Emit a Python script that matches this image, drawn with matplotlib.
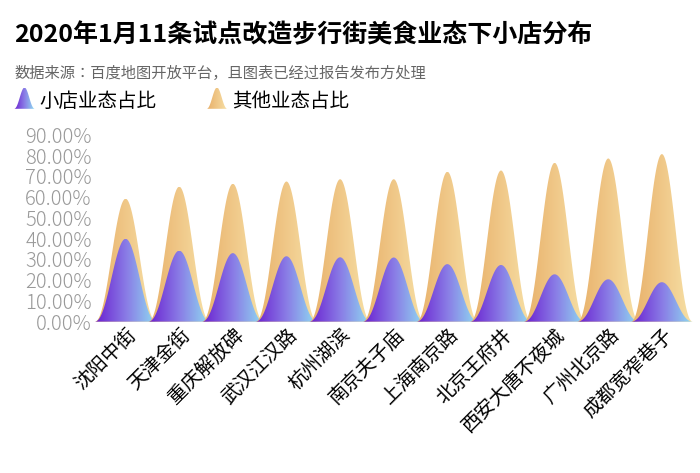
import numpy as np
import matplotlib.pyplot as plt
from matplotlib.colors import LinearSegmentedColormap
from matplotlib.patches import Polygon

plt.rcParams['font.family'] = ['Noto Sans CJK SC', 'Noto Sans CJK JP', 'Noto Sans CJK TC',
                               'Noto Sans CJK KR', 'DejaVu Sans']

streets = ['沈阳中街', '天津金街', '重庆解放碑', '武汉江汉路', '杭州湖滨', '南京夫子庙',
           '上海南京路', '北京王府井', '西安大唐不夜城', '广州北京路', '成都宽窄巷子']
small_share = [39.9, 34.2, 33.0, 31.5, 31.0, 30.9, 27.7, 27.3, 22.8, 20.4, 19.0]
other_share = [59.2, 65.0, 66.4, 67.5, 68.6, 68.6, 72.2, 72.8, 76.5, 78.6, 80.7]

purple = LinearSegmentedColormap.from_list('p', ['#6a1fd0', '#8a7ce6', '#8fe0f2'])
orange = LinearSegmentedColormap.from_list('o', ['#e8b06a', '#f0c888', '#f7e2a8'])
grad = np.linspace(0, 1, 256).reshape(1, -1)


def hump(ax, x0, v, cmap, half=0.58):
    t = np.linspace(-1, 1, 200)
    xs = x0 + t * half
    ys = v * ((1 + np.cos(np.pi * t)) / 2) ** 1.15
    poly = Polygon(np.column_stack([xs, ys]), closed=True, facecolor='none', edgecolor='none')
    ax.add_patch(poly)
    im = ax.imshow(grad, cmap=cmap, aspect='auto', extent=[x0 - half, x0 + half, 0, v], zorder=2)
    im.set_clip_path(poly)


fig = plt.figure(figsize=(7, 4.73), dpi=100)
fig.text(0.02, 0.91, '2020年1月11条试点改造步行街美食业态下小店分布', fontsize=18, fontweight='bold')
fig.text(0.02, 0.835, '数据来源：百度地图开放平台，且图表已经过报告发布方处理', fontsize=11, color='#666666')

ax = fig.add_axes([0.135, 0.32, 0.855, 0.395])
for i, (s, o) in enumerate(zip(small_share, other_share)):
    hump(ax, i, o, orange)
    hump(ax, i, s, purple)
ax.set_xlim(-0.58, len(streets) - 0.42)
ax.set_ylim(0, 90)
ax.set_yticks(np.arange(0, 91, 10))
ax.set_yticklabels([f'{v:.2f}%' for v in range(0, 91, 10)], fontsize=14.5, color='#999999',
                   fontweight='light')
ax.set_xticks(range(len(streets)))
ax.set_xticklabels(streets, rotation=45, ha='right', rotation_mode='anchor', fontsize=14)
ax.tick_params(length=0, pad=2)
for sp in ax.spines.values():
    sp.set_visible(False)

# legend icons
for x0, cmap, label in [(0.02, purple, '小店业态占比'), (0.295, orange, '其他业态占比')]:
    lax = fig.add_axes([x0, 0.77, 0.03, 0.045])
    hump(lax, 0, 1, cmap, half=0.5)
    lax.set_xlim(-0.5, 0.5)
    lax.set_ylim(0, 1)
    lax.axis('off')
    fig.text(x0 + 0.037, 0.773, label, fontsize=14)

fig.savefig('out.png')
